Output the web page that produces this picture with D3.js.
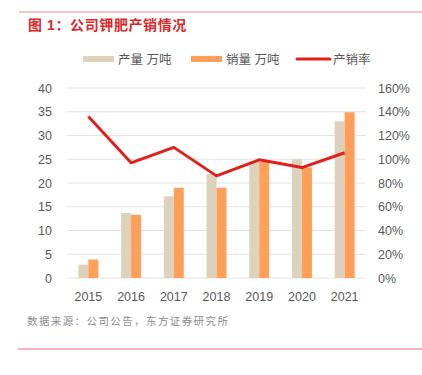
<!DOCTYPE html>
<html>
<head>
<meta charset="utf-8">
<script src="https://cdn.jsdelivr.net/npm/d3@7"></script>
<style>
  body { margin: 0; background: #fff; }
  svg { font-family: "Liberation Sans", "Noto Sans CJK SC", sans-serif; }
</style>
</head>
<body>
<div id="chart"></div>
<script>
/* 公司钾肥产销情况 */

const years = ["2015", "2016", "2017", "2018", "2019", "2020", "2021"];
const production = [2.8, 13.7, 17.2, 21.9, 24.6, 25.0, 33.0];   // 产量 万吨
const sales = [3.9, 13.3, 19.0, 19.0, 24.5, 23.3, 34.9];        // 销量 万吨
const rate = [136, 97, 110, 86, 99.5, 93, 105.5];               // 产销率 %
const leftTicks = [0, 5, 10, 15, 20, 25, 30, 35, 40];
const rightTicks = [0, 20, 40, 60, 80, 100, 120, 140, 160];

const width = 422, height = 375,
    margin = ({ top: 88, right: 56, bottom: 97, left: 67 });

const svg = d3.select("#chart")
    .append("svg")
    .attr("width", width)
    .attr("height", height)
    .attr("viewBox", [0, 0, width, height]);

/* frame lines + title */
svg.append("line")
    .attr("x1", 19).attr("x2", width).attr("y1", 12).attr("y2", 12)
    .attr("stroke", "#F08A8A").attr("stroke-width", 1.2);

svg.append("line")
    .attr("x1", 18).attr("x2", width).attr("y1", 349).attr("y2", 349)
    .attr("stroke", "#E57373").attr("stroke-width", 1.2);

svg.append("text")
    .attr("x", 28).attr("y", 30)
    .attr("fill", "#D9282A")
    .attr("font-size", 14)
    .attr("font-weight", "bold")
    .attr("letter-spacing", 0.6)
    .text("图 1：公司钾肥产销情况");

/* scales */
let x = d3.scaleBand()
    .domain(years)
    .range([margin.left, width - margin.right]);

let xs = d3.scaleBand()
    .domain(["p", "s"])
    .range([0, 20]);

let y = d3.scaleLinear()
    .domain([0, 40])
    .range([height - margin.bottom, margin.top]);

let y2 = d3.scaleLinear()
    .domain([0, 160])
    .range([height - margin.bottom, margin.top]);

/* gridlines */
svg.append("g")
    .selectAll("line")
    .data(leftTicks)
    .join("line")
    .attr("x1", margin.left).attr("x2", width - margin.right)
    .attr("y1", d => y(d)).attr("y2", d => y(d))
    .attr("stroke", "#E3E3E3").attr("stroke-width", 1);

/* axes */
const leftAxis = svg.append("g")
    .attr("transform", `translate(${margin.left - 15},0)`)
    .call(d3.axisLeft(y).tickValues(leftTicks).tickSize(0).tickPadding(0));

const rightAxis = svg.append("g")
    .attr("transform", `translate(${width - margin.right + 12},0)`)
    .call(d3.axisRight(y2).tickValues(rightTicks).tickSize(0).tickPadding(0)
        .tickFormat(d => d + "%"));

const bottomAxis = svg.append("g")
    .attr("transform", `translate(0,${height - margin.bottom + 8})`)
    .call(d3.axisBottom(x).tickSize(0).tickPadding(6));

for (let a of [leftAxis, rightAxis, bottomAxis]) {
    a.select(".domain").remove();
    a.selectAll("text").attr("fill", "#595959").attr("font-size", 12.5);
}

/* bars */
const group = svg.append("g");

group.selectAll(".prod")
    .data(years)
    .join("rect")
    .attr("class", "prod")
    .attr("x", (d, i) => x(d) + x.bandwidth() / 2 - 10 + xs("p"))
    .attr("width", xs.bandwidth())
    .attr("y", (d, i) => y(production[i]))
    .attr("height", (d, i) => y(0) - y(production[i]))
    .attr("fill", "#DDD3BC");

group.selectAll(".sale")
    .data(years)
    .join("rect")
    .attr("class", "sale")
    .attr("x", (d, i) => x(d) + x.bandwidth() / 2 - 10 + xs("s"))
    .attr("width", xs.bandwidth())
    .attr("y", (d, i) => y(sales[i]))
    .attr("height", (d, i) => y(0) - y(sales[i]))
    .attr("fill", "#FF9F5A");

/* rate line */
let line = d3.line()
    .x((d, i) => x(years[i]) + x.bandwidth() / 2)
    .y(d => y2(d));

svg.append("path")
    .datum(rate)
    .attr("d", line)
    .attr("fill", "none")
    .attr("stroke", "#E0201B")
    .attr("stroke-width", 3)
    .attr("stroke-linejoin", "round");

/* legend */
const legend = [
    { label: "产量 万吨", color: "#DDD3BC", x: 83, type: "rect" },
    { label: "销量 万吨", color: "#FF9F5A", x: 191, type: "rect" },
    { label: "产销率", color: "#E0201B", x: 297, type: "line" }
];

const lg = svg.append("g").selectAll("g")
    .data(legend)
    .join("g")
    .attr("transform", d => `translate(${d.x},59)`);

lg.filter(d => d.type === "rect").append("rect")
    .attr("x", 0).attr("y", -3).attr("width", 31).attr("height", 6)
    .attr("fill", d => d.color);

lg.filter(d => d.type === "line").append("line")
    .attr("x1", 0).attr("x2", 33).attr("y1", 0).attr("y2", 0)
    .attr("stroke", d => d.color).attr("stroke-width", 3)
    .attr("stroke-linecap", "round");

lg.append("text")
    .attr("x", d => d.type === "line" ? 36 : 35)
    .attr("y", 4.5)
    .attr("fill", "#595959")
    .attr("font-size", 12.5)
    .text(d => d.label);

/* source */
svg.append("text")
    .attr("x", 27).attr("y", 325)
    .attr("fill", "#8C8C8C")
    .attr("font-size", 10.5)
    .attr("letter-spacing", 1.4)
    .text("数据来源：公司公告，东方证券研究所");
</script>
</body>
</html>
